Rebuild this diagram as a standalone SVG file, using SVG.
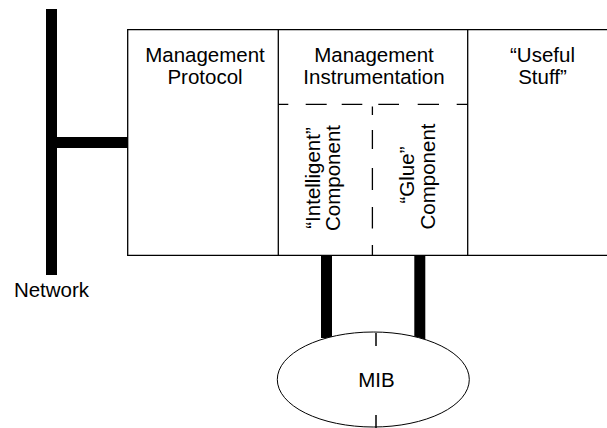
<svg xmlns="http://www.w3.org/2000/svg" width="607" height="428" viewBox="0 0 607 428">
  <style>
    .lbl { font-family: "Liberation Sans", Arial, sans-serif; font-size: 20.5px; fill: #000; text-anchor: middle; }
    .frame { fill: none; stroke: #000; stroke-width: 1.3; }
    .bus { stroke: #000; stroke-width: 11; fill: none; }
  </style>
  <rect width="607" height="428" fill="#fff"/>

  <g id="connectors">
    <!-- network backbone and its tap into the agent -->
    <line class="bus" x1="51.5" y1="9" x2="51.5" y2="275"/>
    <line class="bus" x1="51.5" y1="142.5" x2="128" y2="142.5"/>
    <!-- component links down to the MIB -->
    <line class="bus" x1="326.5" y1="255" x2="326.5" y2="338"/>
    <line class="bus" x1="419.8" y1="255" x2="419.8" y2="339"/>
  </g>

  <g id="network">
    <text class="lbl" x="51.5" y="297">Network</text>
  </g>

  <g id="agent">
    <path class="frame" d="M607 29.7 H127.7 V255.3 H607"/>
    <line class="frame" x1="278.3" y1="29.7" x2="278.3" y2="255.3"/>
    <line class="frame" x1="467.7" y1="29.7" x2="467.7" y2="255.3"/>
  </g>

  <g id="management-protocol">
    <text class="lbl" x="205" y="62">Management</text>
    <text class="lbl" x="205" y="84">Protocol</text>
  </g>

  <g id="management-instrumentation">
    <text class="lbl" x="374" y="62">Management</text>
    <text class="lbl" x="374" y="84">Instrumentation</text>
    <!-- dashed split between the two components -->
    <path class="frame" d="M278.3 104.3 H288.3 M305.7 104.3 H326.7 M341.7 104.3 H362.3 M378.3 104.3 H399 M417.7 104.3 H439 M456.7 104.3 H467.7"/>
    <path class="frame" d="M372.4 106.5 V115 M372.4 130 V149 M372.4 168 V190 M372.4 207 V228.5 M372.4 245 V255.3"/>
  </g>

  <g id="intelligent-component">
    <text class="lbl" transform="translate(320 178) rotate(-90)">“Intelligent”</text>
    <text class="lbl" transform="translate(340 178) rotate(-90)">Component</text>
  </g>

  <g id="glue-component">
    <text class="lbl" transform="translate(413.5 175) rotate(-90)">“Glue”</text>
    <text class="lbl" transform="translate(435 176.5) rotate(-90)">Component</text>
  </g>

  <g id="useful-stuff">
    <text class="lbl" x="542.5" y="62">“Useful</text>
    <text class="lbl" x="542.5" y="84">Stuff”</text>
  </g>

  <g id="mib">
    <ellipse cx="373.3" cy="379.5" rx="96" ry="47.5" fill="#fff" stroke="#000" stroke-width="1"/>
    <line x1="376" y1="333" x2="376" y2="346" stroke="#000" stroke-width="1.5"/>
    <line x1="376" y1="415" x2="376" y2="428" stroke="#000" stroke-width="1.5"/>
    <text class="lbl" x="376.5" y="387">MIB</text>
  </g>
</svg>
